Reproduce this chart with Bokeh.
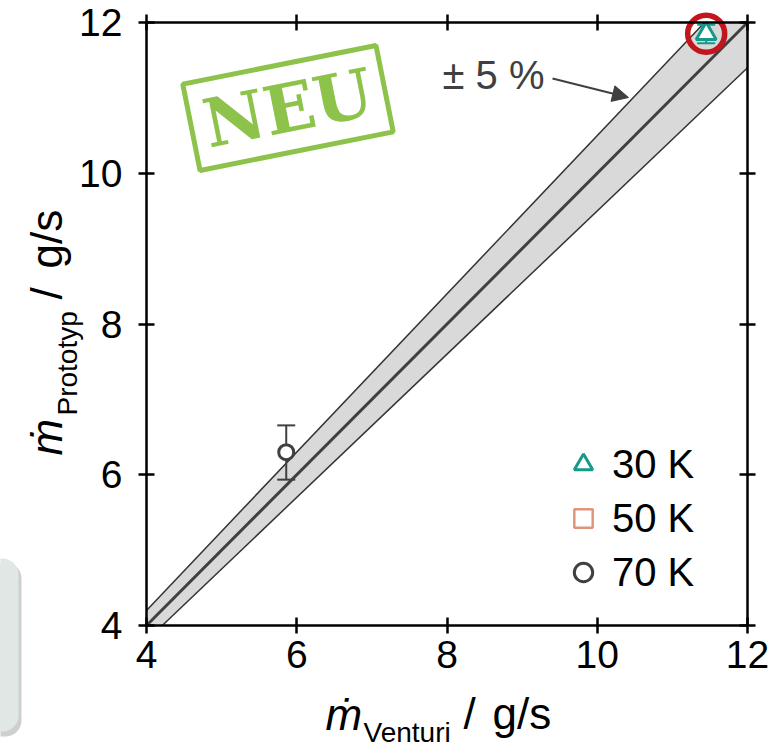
import math
from bokeh.plotting import figure
from bokeh.models import (LinearAxis, FixedTicker, Range1d, Legend, LegendItem, Label,
                          Arrow, NormalHead, ColumnDataSource, BoxAnnotation)
from bokeh.core.properties import value
from bokeh.embed import file_html
from bokeh.resources import INLINE

# ---------------- data ----------------
ticks = [4, 6, 8, 10, 12]
tolerance = 0.05
series_labels = ["30 K", "50 K", "70 K"]

x30 = [11.45]
y30 = [11.85]
y30_lo = [11.725]
y30_hi = [11.97]

x50 = [float("nan")]   # no measured points for 50 K
y50 = [float("nan")]

x70 = [5.86]
y70 = [6.30]
y70_lo = [5.935]
y70_hi = [6.655]

# ---------------- style / layout ----------------
TEAL = "#14998a"
SALMON = "#e0957a"
DARK = "#404040"
GREEN = "#8dc34a"
RED = "#c0161c"
FONT = "Liberation Sans"

W, H = 781, 747
X0, X1, Y0, Y1 = ticks[0], ticks[-1], ticks[0], ticks[-1]
FL, FT, FW, FH = 146, 22, 601, 603   # data box on the page
SX = FW / (X1 - X0)
SY = FH / (Y1 - Y0)


def px_x(px):
    return X0 + (px - FL) / SX


def px_y(py):
    return Y1 - (py - FT) / SY


p = figure(width=W, height=H,
           x_range=Range1d(px_x(0), px_x(W)), y_range=Range1d(px_y(H), px_y(0)),
           x_axis_location=None, y_axis_location=None,
           output_backend="svg", toolbar_location=None, min_border=0)
p.outline_line_color = None
p.xgrid.grid_line_color = None
p.ygrid.grid_line_color = None
p.background_fill_color = "white"
p.border_fill_color = "white"

ax_b = LinearAxis(fixed_location=Y0)
ax_l = LinearAxis(fixed_location=X0)
ax_t = LinearAxis(fixed_location=Y1)
ax_r = LinearAxis(fixed_location=X1)
p.add_layout(ax_b, "below")
p.add_layout(ax_l, "left")
p.add_layout(ax_t, "above")
p.add_layout(ax_r, "right")

for ax in [ax_b, ax_l, ax_t, ax_r]:
    ax.ticker = FixedTicker(ticks=ticks)
    ax.bounds = (ticks[0], ticks[-1])
    ax.axis_line_width = 2.5
    ax.axis_line_color = "black"
    ax.major_tick_line_width = 2.5
    ax.major_tick_line_color = "black"
    ax.major_tick_in = 8
    ax.major_tick_out = 8
    ax.minor_tick_line_color = None
    ax.major_label_text_font = FONT
    ax.major_label_text_font_size = "39px"
    ax.major_label_text_color = "black"

ax_b.major_label_standoff = 7
ax_l.major_label_standoff = 16
for ax in [ax_t, ax_r]:
    ax.major_label_overrides = {t: "" for t in ticks}
    ax.major_label_text_font_size = "0px"
    ax.major_label_standoff = 0

# ---------------- tolerance band (clipped to the data box) ----------------
up, lo = 1 + tolerance, 1 - tolerance
band_xs = [X0, X0, Y1 / up, X1, X1, Y0 / lo]
band_ys = [Y0, X0 * up, Y1, Y1, X1 * lo, Y0]
p.patch(band_xs, band_ys, fill_color="#d9d9d9", line_color=None)
p.line([X0, Y1 / up], [X0 * up, Y1], line_color="#333333", line_width=1.5)
p.line([Y0 / lo, X1], [Y0, X1 * lo], line_color="#333333", line_width=1.5)
p.line([X0, X1], [Y0, Y1], line_color=DARK, line_width=3)

# ---------------- NEU stamp ----------------
stamp_src = ColumnDataSource(dict(x=[px_x(287.5)], y=[px_y(107.5)], t=["NEU"]))
p.rect(x="x", y="y", width=197, height=88, width_units="screen", height_units="screen",
       angle=11.3, angle_units="deg", fill_alpha=0, line_color=GREEN, line_width=5,
       source=stamp_src)
p.text(x="x", y="y", text="t", angle=11.3, angle_units="deg",
       text_font=value("DejaVu Serif"), text_font_style="bold", text_font_size="67px",
       text_color=GREEN, text_align="center", text_baseline="middle", source=stamp_src)

# ---------------- error bars ----------------
def errbar(xs, ylo, yhi, color):
    p.segment(x0=xs, y0=ylo, x1=xs, y1=yhi, line_color=color, line_width=2)
    p.scatter(xs, ylo, marker="dash", size=18, line_color=color, line_width=2)
    p.scatter(xs, yhi, marker="dash", size=18, line_color=color, line_width=2)


errbar(x30, y30_lo, y30_hi, TEAL)
errbar(x70, y70_lo, y70_hi, DARK)

# ---------------- points ----------------
r30 = p.scatter(x30, y30, marker="triangle", size=20, line_color=TEAL, line_width=3,
                fill_color="white")
r50 = p.scatter(x50, y50, marker="square", size=15, line_color=SALMON, line_width=2.5,
                fill_color="white")
r70 = p.scatter(x70, y70, marker="circle", size=15, line_color=DARK, line_width=3,
                fill_color="white")

# red highlight ring around the 30 K point
p.scatter(x30, y30, marker="circle", size=37, fill_alpha=0, line_color=RED, line_width=5.5)

# ---------------- legend ----------------
legend = Legend(items=[LegendItem(label=series_labels[0], renderers=[r30]),
                       LegendItem(label=series_labels[1], renderers=[r50]),
                       LegendItem(label=series_labels[2], renderers=[r70])],
                location=(560, H - 595), padding=0, margin=0, spacing=8,
                glyph_width=46, glyph_height=46, label_height=46, label_standoff=6,
                label_text_font=FONT, label_text_font_size="40px",
                label_text_color="black",
                background_fill_alpha=0, border_line_color=None)
p.add_layout(legend)


# ---------------- text labels (baseline given in page pixels) ----------------
def lab(px, py, text, size, italic=False, angle=0, color="black"):
    shift = 0.28 * size          # renderer puts the given point near mid-height
    if angle == 0:
        py -= shift
    else:
        px -= shift
    p.add_layout(Label(x=px_x(px), y=px_y(py), text=text, text_font=FONT,
                       text_font_size=f"{size}px",
                       text_font_style="italic" if italic else "normal",
                       text_color=color, text_baseline="alphabetic", text_align="left",
                       angle=angle, angle_units="deg"))


# +-5 % annotation
lab(442, 86, "± 5 %", 40, color=DARK)
p.add_layout(Arrow(end=NormalHead(size=16, fill_color=DARK, line_color=DARK),
                   x_start=px_x(552), y_start=px_y(78), x_end=px_x(628), y_end=px_y(97),
                   line_color=DARK, line_width=2))

# ---------------- side box (partially visible at the left edge) ----------------
p.add_layout(BoxAnnotation(left=px_x(-30), right=px_x(21), top=px_y(562), bottom=px_y(736),
                           fill_color="#a8a8a8", fill_alpha=0.55, line_color=None,
                           border_radius=16))
p.add_layout(BoxAnnotation(left=px_x(-30), right=px_x(18), top=px_y(558), bottom=px_y(731),
                           fill_color="#dfe8e5", fill_alpha=1, line_color=None,
                           border_radius=16))

# x-axis title
lab(325, 726, "ṁ", 44, italic=True)
lab(363, 740, "Venturi", 28)
lab(463, 725, "/", 44)
lab(492, 725, "g/s", 44)

# y-axis title
lab(58, 455, "ṁ", 44, italic=True, angle=90)
lab(75, 415, "Prototyp", 28, angle=90)
lab(58, 299, "/", 44, angle=90)
lab(58, 268, "g/s", 44, angle=90)

open("out.html", "w").write(file_html(p, INLINE))
